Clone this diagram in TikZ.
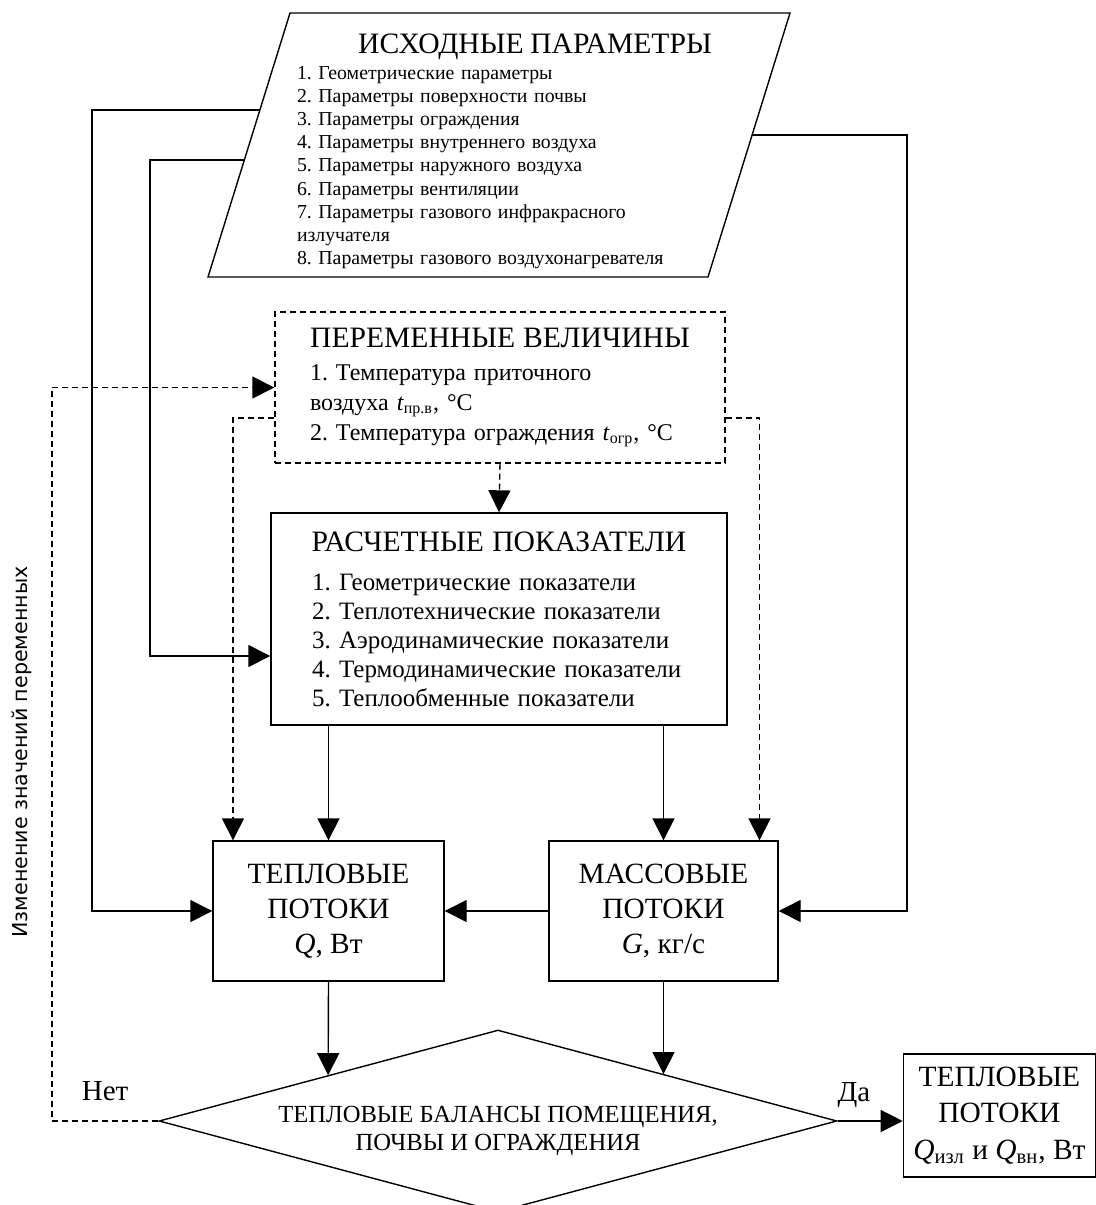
\documentclass[tikz,border=0pt]{standalone}
\usepackage{fontspec}
\setmainfont{Liberation Serif}
\newfontfamily\sidefont{DejaVu Sans}
\usepackage{tikz}
\usetikzlibrary{shapes.geometric}
\usetikzlibrary{arrows.meta,positioning,calc}
\frenchspacing
\tikzstyle{main box}=[draw, line width=0.7pt, inner sep=0pt, align=center, font=\fontsize{14.7}{17.5}\selectfont]
\tikzstyle{var box}=[main box, dash pattern=on 3pt off 2pt]
\tikzstyle{decision}=[diamond, draw, line width=0.7pt, shape aspect=3.725, minimum width=339pt, minimum height=91pt, inner sep=0pt]
\tikzstyle{list text}=[inner sep=0pt, align=left]
\tikzstyle{back}=[dash pattern=on 3pt off 2pt]
\tikzstyle{answer}=[font=\fontsize{14.5}{17}\selectfont, inner sep=0pt]
\newcommand{\boxtitle}[1]{{\fontsize{14.8}{17}\selectfont\makebox[\linewidth]{#1}\par}}

\begin{document}
\begin{tikzpicture}[->, >={Triangle[length=11pt,width=11pt]}, line width=0.7pt, x=0.5pt, y=-0.5pt]
  \useasboundingbox (0,0) rectangle (1096,1205);

  % input data
  \coordinate (srcBL) at (208,277);
  \coordinate (srcTL) at (290,13);
  \coordinate (srcTR) at (790,13);
  \coordinate (srcBR) at (708,277);
  \draw[-] (srcBL) -- (srcTL) -- (srcTR) -- (srcBR) -- cycle;
  \node[list text, text width=238pt, anchor=north, font=\fontsize{9.9}{11.56}\selectfont] (srctext) at (535,33) {%
    \boxtitle{ИСХОДНЫЕ ПАРАМЕТРЫ}\vspace{1.5pt}
    1. Геометрические параметры\\
    2. Параметры поверхности почвы\\
    3. Параметры ограждения\\
    4. Параметры внутреннего воздуха\\
    5. Параметры наружного воздуха\\
    6. Параметры вентиляции\\
    7. Параметры газового инфракрасного\\
    излучателя\\
    8. Параметры газового воздухонагревателя};

  \node[var box, minimum width=225pt, minimum height=75.5pt, text width=190pt, align=left, font=\fontsize{12}{15}\selectfont] (var) at (500,387.5) {%
    \boxtitle{ПЕРЕМЕННЫЕ ВЕЛИЧИНЫ}\vspace{1.5pt}
    1. Температура приточного\\
    воздуха \textit{t}\textsubscript{пр.в}, °C\\
    2. Температура ограждения \textit{t}\textsubscript{огр}, °C};

  \node[main box, minimum width=228pt, minimum height=106pt, text width=187pt, align=left, font=\fontsize{12.5}{14.5}\selectfont] (calc) at (499,619) {%
    \boxtitle{РАСЧЕТНЫЕ ПОКАЗАТЕЛИ}\vspace{5pt}
    1. Геометрические показатели\\
    2. Теплотехнические показатели\\
    3. Аэродинамические показатели\\
    4. Термодинамические показатели\\
    5. Теплообменные показатели};

  \node[main box, minimum width=115.5pt, minimum height=70pt] (heat) at (328.5,911) {ТЕПЛОВЫЕ\\ПОТОКИ\\\textit{Q}, Вт};
  \node[main box, minimum width=114.5pt, minimum height=70pt] (mass) at (663.5,911) {МАССОВЫЕ\\ПОТОКИ\\\textit{G}, кг/с};

  \node[decision] (bal) at (498,1121) {};
  \node[main box, draw=none, font=\fontsize{12.3}{14}\selectfont] (baltext) at ([yshift=-5pt]bal.center) {ТЕПЛОВЫЕ БАЛАНСЫ ПОМЕЩЕНИЯ,\\ПОЧВЫ И ОГРАЖДЕНИЯ};

  \node[main box, minimum width=96pt, minimum height=61.5pt, yshift=2.75pt, font=\fontsize{14.7}{18.25}\selectfont] (res) [right=32.5pt of bal.east] {ТЕПЛОВЫЕ\\ПОТОКИ\\\textit{Q}\textsubscript{изл} и \textit{Q}\textsubscript{вн}, Вт};

  \node[rotate=90, inner sep=0pt, font=\sidefont\fontsize{10.3}{12}\selectfont] (change) at (22,752) {Изменение значений переменных};

  \coordinate (srcA) at ($(srcBL)!0.633!(srcTL)$);
  \coordinate (srcB) at ($(srcBL)!0.443!(srcTL)$);
  \coordinate (srcC) at ($(srcBR)!0.538!(srcTR)$);
  \coordinate (leftA) at (92,0);
  \coordinate (leftB) at (150,0);
  \coordinate (rightC) at (907,0);
  \coordinate (leftN) at (52,0);
  \coordinate (calcin) at ([yshift=-18.5pt]calc.west);
  \coordinate (balNW) at ($(bal.west)!0.5!(bal.north)$);
  \coordinate (balNE) at ($(bal.north)!0.488!(bal.east)$);

  \draw (srcA) -| (leftA |- heat.west) -- (heat.west);
  \draw (srcB) -| (leftB |- calcin) -- (calcin);
  \draw (srcC) -| (rightC |- mass.east) -- (mass.east);

  \draw[back] (var.south) -- (calc.north);
  \draw[back] ([yshift=-15.25pt]var.west) -| ([xshift=-47.75pt]heat.north);
  \draw[back] ([yshift=-15.25pt]var.east) -| ([xshift=48pt]mass.north);

  \draw (calc.south -| heat.north) -- (heat.north);
  \draw (calc.south -| mass.north) -- (mass.north);
  \draw (mass.west) -- (heat.east);

  \draw (heat.south) -- (balNW);
  \draw (mass.south) -- (mass.south |- balNE);

  \draw (bal.east) -- node[answer, pos=0.25, above=6.5pt] (yes) {Да} (bal.east -| res.west);
  \draw[back] (bal.west) -| node[answer, pos=0.25, above=10pt] (no) {Нет} (leftN |- var.west) -- (var.west);

\end{tikzpicture}
\end{document}
